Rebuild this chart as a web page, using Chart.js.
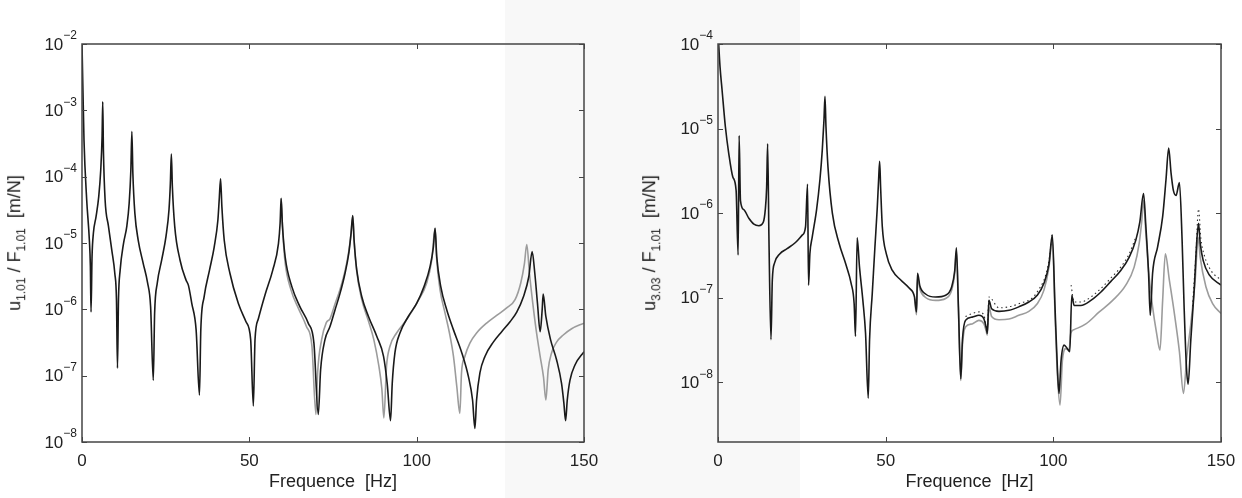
<!DOCTYPE html>
<html>
<head>
<meta charset="utf-8">
<script src="https://cdn.jsdelivr.net/npm/chart.js@4.4.0/dist/chart.umd.min.js"></script>
<style>
  html, body { margin: 0; padding: 0; background: #fff; }
  #page { position: relative; width: 1242px; height: 498px; overflow: hidden;
          font-family: "Liberation Sans", Arial, Helvetica, sans-serif; color: #222; }
  .band { position: absolute; left: 505px; top: 0; width: 295px; height: 498px; background: #f8f8f8; }
  .panel { position: absolute; top: 0; width: 621px; height: 498px; }
  .ytitle { position: absolute; top: 243px; font-size: 18px; line-height: 1; white-space: nowrap;
            transform: translate(-50%, -50%) rotate(-90deg); }
  .ytitle sub { font-size: 12px; }
</style>
</head>
<body>
<div id="page">
  <div class="band"></div>
  <div class="panel" style="left:0"><canvas id="left" width="621" height="498"></canvas></div>
  <div class="panel" style="left:621px"><canvas id="right" width="621" height="498"></canvas></div>
  <div class="ytitle" style="left:16px">u<sub>1.01</sub> / F<sub>1.01</sub>&nbsp;&nbsp;[m/N]</div>
  <div class="ytitle" style="left:651px">u<sub>3.03</sub> / F<sub>1.01</sub>&nbsp;&nbsp;[m/N]</div>
</div>
<script>
// --- data: [frequency Hz, receptance m/N] ---
const xTicks = [0, 50, 100, 150];
const xTitle = "Frequence  [Hz]";

const leftYTicks = [1e-8, 1e-7, 1e-6, 1e-5, 1e-4, 1e-3, 1e-2];
const leftYExps = ["\u22128", "\u22127", "\u22126", "\u22125", "\u22124", "\u22123", "\u22122"];

const rightYTicks = [1e-8, 1e-7, 1e-6, 1e-5, 1e-4];
const rightYExps = ["\u22128", "\u22127", "\u22126", "\u22125", "\u22124"];

// u1.01 / F1.01, black curve
const leftBlack = [
  [0, 1.0e-2], [0.6, 3.5e-4], [1.4, 4.5e-5], [2.2, 1.1e-5], [2.5, 4.5e-6], [2.7, 9.1e-7],
  [3.0, 6.2e-6], [3.4, 1.4e-5], [4.2, 2.5e-5], [5.0, 5.0e-5], [5.6, 1.26e-4], [6.0, 4.0e-4],
  [6.2, 1.35e-3], [6.4, 2.5e-4], [6.9, 4.5e-5], [7.9, 1.8e-5], [8.9, 7.8e-6], [9.8, 3.5e-6],
  [10.3, 1.4e-6], [10.6, 1.3e-7], [10.9, 1.4e-6], [11.4, 3.9e-6], [12.4, 9.8e-6], [13.4, 1.8e-5],
  [14.1, 4.0e-5], [14.6, 1.26e-4], [14.9, 4.8e-4], [15.2, 1.12e-4], [15.8, 2.8e-5], [16.8, 1.1e-5],
  [18.3, 4.9e-6], [19.6, 2.5e-6], [20.5, 1.1e-6], [21.3, 8.5e-8], [21.7, 8.7e-7], [22.5, 2.5e-6],
  [23.8, 5.5e-6], [25.1, 1.26e-5], [26.0, 3.2e-5], [26.4, 7.9e-5], [26.7, 2.2e-4], [27.0, 7.1e-5],
  [27.7, 1.8e-5], [29.3, 5.5e-6], [31.1, 2.75e-6], [31.8, 2.3e-6], [32.8, 1.23e-6], [34.1, 4.9e-7],
  [35.1, 5.1e-8], [35.5, 4.9e-7], [36.5, 1.55e-6], [38.1, 3.9e-6], [39.5, 8.7e-6], [40.6, 2.2e-5],
  [41.0, 4.5e-5], [41.4, 9.3e-5], [41.8, 3.5e-5], [42.5, 1.1e-5], [44.2, 3.5e-6], [46.7, 1.23e-6],
  [49.0, 6.5e-7], [50.4, 3.5e-7], [51.2, 3.5e-8], [51.7, 3.5e-7], [52.7, 7.2e-7], [54.7, 1.66e-6],
  [57.0, 3.9e-6], [58.7, 9.8e-6], [59.2, 2.0e-5], [59.5, 4.7e-5], [59.9, 1.8e-5], [60.7, 6.2e-6],
  [62.7, 2.2e-6], [65.1, 1.1e-6], [67.6, 6.2e-7], [69.3, 3.1e-7], [70.6, 2.6e-8], [71.3, 1.23e-7],
  [72.6, 3.5e-7], [74.1, 5.5e-7], [75.6, 9.8e-7], [77.1, 1.74e-6], [78.6, 3.5e-6], [79.7, 6.9e-6],
  [80.4, 1.4e-5], [80.9, 2.6e-5], [81.3, 1.1e-5], [82.1, 3.9e-6], [83.6, 1.55e-6], [85.6, 7.8e-7],
  [88.1, 3.9e-7], [90.1, 1.95e-7], [91.2, 7.6e-8], [92.2, 2.1e-8], [92.7, 7.6e-8], [93.5, 2.2e-7],
  [95.0, 4.4e-7], [97.5, 7.8e-7], [100.0, 1.23e-6], [102.2, 2.2e-6], [104.0, 4.4e-6], [105.0, 8.7e-6],
  [105.5, 1.66e-5], [106.0, 6.2e-6], [107.2, 2.2e-6], [109.0, 9.8e-7], [111.0, 4.9e-7], [113.5, 2.2e-7],
  [115.5, 9.5e-8], [116.7, 4.3e-8], [117.4, 1.6e-8], [117.9, 4.3e-8], [118.9, 1.1e-7], [120.4, 1.95e-7],
  [122.9, 3.2e-7], [125.4, 4.6e-7], [127.9, 6.5e-7], [129.9, 9.1e-7], [131.9, 1.55e-6], [133.5, 3.1e-6],
  [134.5, 7.4e-6], [135.3, 3.5e-6], [136.1, 1.23e-6], [136.9, 4.6e-7], [137.5, 9.8e-7], [137.8, 1.7e-6],
  [138.6, 7.8e-7], [140.0, 3.5e-7], [141.8, 1.74e-7], [143.3, 7.6e-8], [144.0, 3.8e-8], [144.5, 2.1e-8],
  [145.0, 4.3e-8], [145.8, 8.5e-8], [147.3, 1.45e-7], [150.0, 2.3e-7]
];

// u1.01 / F1.01, grey curve (same as black below 59 Hz)
const leftGrey = [
  [59.5, 4.7e-5], [59.9, 1.8e-5], [60.6, 5.6e-6], [62.4, 2.0e-6], [64.8, 1.0e-6], [67.0, 5.6e-7],
  [68.7, 2.8e-7], [69.9, 2.6e-8], [70.4, 1.1e-7], [71.6, 3.5e-7], [73.0, 6.3e-7], [74.1, 7.2e-7],
  [75.6, 1.2e-6], [77.1, 2.0e-6], [78.6, 3.8e-6], [79.7, 7.4e-6], [80.4, 1.4e-5], [80.9, 2.6e-5],
  [81.3, 1.1e-5], [82.1, 3.7e-6], [83.6, 1.4e-6], [85.5, 6.9e-7], [87.2, 3.5e-7], [88.7, 1.4e-7],
  [89.6, 6.3e-8], [90.2, 2.3e-8], [91.0, 1.4e-7], [92.0, 2.75e-7], [94.0, 4.4e-7], [96.9, 6.9e-7],
  [100.0, 1.23e-6], [103.0, 2.5e-6], [104.5, 5.5e-6], [105.5, 1.66e-5], [106.0, 5.5e-6], [107.0, 1.95e-6],
  [108.5, 8.7e-7], [109.8, 4.4e-7], [111.0, 1.95e-7], [112.0, 6.8e-8], [112.9, 2.7e-8], [113.4, 1.1e-7],
  [114.4, 1.95e-7], [115.9, 3.1e-7], [117.9, 4.4e-7], [120.9, 6.2e-7], [123.9, 8.1e-7], [126.9, 1.05e-6],
  [129.4, 1.4e-6], [131.1, 2.5e-6], [132.2, 4.9e-6], [132.9, 9.5e-6], [133.7, 3.5e-6], [134.7, 1.23e-6],
  [135.7, 4.9e-7], [136.9, 1.95e-7], [137.9, 9.5e-8], [138.6, 4.3e-8], [139.3, 1.23e-7], [140.3, 2.2e-7],
  [141.8, 3.2e-7], [143.8, 4.1e-7], [146.3, 5.1e-7], [150.0, 6.2e-7]
];

// u3.03 / F1.01, black curve
const rightBlack = [
  [0.2, 1.0e-4], [0.6, 5.4e-5], [1.2, 2.9e-5], [2.2, 1.05e-5], [3.2, 5.1e-6], [4.4, 2.7e-6],
  [5.4, 1.86e-6], [6.0, 3.2e-7], [6.3, 8.3e-6], [6.7, 1.41e-6], [7.7, 1.1e-6], [9.2, 8.7e-7],
  [10.7, 7.4e-7], [12.2, 7.1e-7], [13.5, 7.8e-7], [14.1, 1.1e-6], [14.5, 2.0e-6], [14.8, 6.6e-6],
  [15.2, 4.8e-7], [15.8, 3.2e-8], [16.2, 1.62e-7], [16.9, 2.6e-7], [18.4, 3.3e-7], [20.6, 3.8e-7],
  [23.1, 4.5e-7], [25.1, 5.5e-7], [26.1, 6.9e-7], [26.7, 2.2e-6], [27.0, 1.41e-7], [27.4, 3.3e-7],
  [28.1, 5.2e-7], [29.4, 1.1e-6], [30.4, 2.5e-6], [31.1, 5.6e-6], [31.6, 1.26e-5], [31.9, 2.4e-5],
  [32.2, 1.05e-5], [32.8, 3.5e-6], [34.1, 1.0e-6], [36.1, 4.4e-7], [38.1, 2.5e-7], [39.7, 1.48e-7],
  [40.6, 8.5e-8], [41.0, 3.5e-8], [41.5, 5.1e-7], [42.2, 2.3e-7], [43.2, 9.3e-8], [44.0, 3.8e-8],
  [44.8, 6.5e-9], [45.2, 3.2e-8], [46.0, 1.12e-7], [46.8, 4.0e-7], [47.5, 1.17e-6], [47.9, 2.5e-6],
  [48.2, 4.1e-6], [48.5, 2.0e-6], [49.0, 6.9e-7], [50.2, 3.3e-7], [52.0, 2.1e-7], [54.5, 1.62e-7],
  [57.0, 1.3e-7], [58.6, 1.02e-7], [59.2, 6.8e-8], [59.5, 1.95e-7], [60.2, 1.38e-7], [62.0, 1.1e-7],
  [64.9, 1.02e-7], [67.9, 1.07e-7], [69.7, 1.35e-7], [70.6, 2.1e-7], [71.1, 3.9e-7], [71.7, 7.8e-8],
  [72.4, 1.1e-8], [72.9, 3.2e-8], [73.8, 5.4e-8], [75.8, 5.9e-8], [77.8, 6.2e-8], [79.3, 5.6e-8],
  [80.0, 4.4e-8], [80.3, 3.8e-8], [80.8, 9.3e-8], [81.6, 7.4e-8], [83.8, 6.9e-8], [86.8, 7.1e-8],
  [89.7, 7.8e-8], [92.7, 8.9e-8], [95.2, 1.07e-7], [97.2, 1.48e-7], [98.7, 2.5e-7], [99.7, 5.5e-7],
  [100.5, 7.8e-8], [101.2, 1.5e-8], [101.7, 7.4e-9], [102.3, 1.8e-8], [103.2, 2.75e-8], [104.2, 2.5e-8],
  [104.9, 2.3e-8], [105.5, 1.07e-7], [106.2, 8.1e-8], [108.2, 8.1e-8], [111.2, 9.3e-8], [114.2, 1.17e-7],
  [117.1, 1.55e-7], [120.1, 2.1e-7], [122.6, 3.0e-7], [124.6, 4.8e-7], [125.8, 7.9e-7], [126.9, 1.7e-6],
  [127.6, 6.9e-7], [128.4, 1.95e-7], [128.9, 6.2e-8], [129.6, 1.95e-7], [131.1, 4.0e-7], [132.6, 9.1e-7],
  [133.6, 2.5e-6], [134.4, 5.9e-6], [135.1, 3.0e-6], [135.8, 1.86e-6], [136.6, 1.62e-6], [137.6, 2.3e-6],
  [138.4, 4.8e-7], [139.0, 7.8e-8], [139.7, 1.5e-8], [140.2, 9.5e-9], [141.0, 3.2e-8], [142.0, 1.23e-7],
  [142.8, 4.8e-7], [143.3, 7.6e-7], [143.8, 4.4e-7], [144.7, 2.75e-7], [146.5, 1.86e-7], [150.0, 1.41e-7]
];

// u3.03 / F1.01, grey curve (hidden under black below 58 Hz)
const rightGrey = [
  [58.6, 9.8e-8], [59.2, 6.3e-8], [59.5, 1.74e-7], [60.2, 1.26e-7], [62.0, 1.0e-7], [64.9, 9.3e-8],
  [67.9, 9.8e-8], [69.7, 1.23e-7], [70.6, 1.95e-7], [71.1, 3.6e-7], [71.7, 7.1e-8], [72.4, 1.05e-8],
  [72.9, 2.75e-8], [73.8, 4.5e-8], [75.8, 4.9e-8], [77.8, 5.4e-8], [79.3, 4.9e-8], [80.0, 4.0e-8],
  [80.3, 3.6e-8], [80.8, 7.8e-8], [81.6, 6.0e-8], [83.8, 5.5e-8], [86.8, 5.6e-8], [89.7, 6.2e-8],
  [92.7, 6.9e-8], [95.2, 8.5e-8], [97.2, 1.23e-7], [98.7, 2.3e-7], [99.7, 5.0e-7], [100.5, 6.5e-8],
  [101.2, 1.26e-8], [102.0, 5.4e-9], [102.7, 1.8e-8], [103.7, 2.5e-8], [104.7, 2.4e-8], [105.2, 3.8e-8],
  [106.2, 4.2e-8], [109.7, 4.9e-8], [113.7, 6.8e-8], [117.7, 9.3e-8], [121.6, 1.41e-7], [124.1, 2.3e-7],
  [125.6, 4.4e-7], [126.4, 8.3e-7], [126.9, 1.41e-6], [127.6, 5.8e-7], [128.4, 2.1e-7], [129.6, 7.8e-8],
  [130.8, 3.8e-8], [131.8, 2.4e-8], [132.6, 9.3e-8], [133.4, 3.3e-7], [134.6, 1.62e-7], [136.1, 6.5e-8],
  [137.6, 2.3e-8], [138.8, 7.4e-9], [139.8, 2.0e-8], [141.0, 4.9e-8], [142.3, 1.62e-7], [143.2, 5.2e-7],
  [143.8, 3.0e-7], [145.5, 1.35e-7], [147.5, 8.5e-8], [150.0, 6.5e-8]
];

// u3.03 / F1.01, dotted curve where it shows beside the black one
const rightDotted = [
  [73.8, 6.0e-8], [75.8, 6.5e-8], [77.8, 6.8e-8], [79.3, 6.2e-8], [80.3, 4.2e-8], [80.8, 1.02e-7],
  [83.8, 7.6e-8], [89.7, 8.5e-8], [95.2, 1.17e-7], [98.7, 2.75e-7], [99.7, 6.0e-7], [100.2, null],
  [105.3, 1.41e-7], [106.2, 8.9e-8], [108.2, 8.9e-8], [111.2, 1.02e-7], [114.2, 1.29e-7], [117.1, 1.7e-7],
  [120.1, 2.3e-7], [122.6, 3.3e-7], [124.6, 5.2e-7], [125.0, null],
  [141.5, 7.9e-8], [142.5, 3.2e-7], [143.3, 1.12e-6], [144.0, 5.0e-7], [145.0, 3.2e-7], [147.0, 2.1e-7],
  [150.0, 1.62e-7]
];

const FONT = '"Liberation Sans", Arial, Helvetica, sans-serif';
const toXY = (arr) => arr.map((p) => ({ x: p[0], y: p[1] }));

// box around the plot, inward ticks, and 10^n labels
const framePlugin = {
  id: "frame",
  afterDraw(chart, args, opts) {
    const { ctx, chartArea: a } = chart;
    const x = chart.scales.x;
    const y = chart.scales.y;
    ctx.save();
    ctx.strokeStyle = "#444";
    ctx.lineWidth = 1.5;
    ctx.strokeRect(a.left, a.top, a.right - a.left, a.bottom - a.top);

    ctx.lineWidth = 1;
    ctx.beginPath();
    xTicks.forEach((v) => {
      const px = Math.round(x.getPixelForValue(v)) + 0.5;
      ctx.moveTo(px, a.bottom); ctx.lineTo(px, a.bottom - 5);
      ctx.moveTo(px, a.top); ctx.lineTo(px, a.top + 5);
    });
    opts.yTicks.forEach((v) => {
      const py = Math.round(y.getPixelForValue(v)) + 0.5;
      ctx.moveTo(a.left, py); ctx.lineTo(a.left + 5, py);
      ctx.moveTo(a.right, py); ctx.lineTo(a.right - 5, py);
    });
    ctx.stroke();

    ctx.fillStyle = "#222";
    ctx.textAlign = "right";
    ctx.textBaseline = "middle";
    opts.yTicks.forEach((v, i) => {
      const py = y.getPixelForValue(v);
      ctx.font = "12px " + FONT;
      const ew = ctx.measureText(opts.yExps[i]).width;
      ctx.fillText(opts.yExps[i], a.left - 5, py - 8);
      ctx.font = "17px " + FONT;
      ctx.fillText("10", a.left - 5 - ew, py + 1);
    });
    ctx.restore();
  },
};

function makeChart(id, setup) {
  return new Chart(document.getElementById(id), {
    type: "line",
    data: { datasets: setup.datasets },
    options: {
      responsive: false,
      animation: false,
      events: [],
      layout: { padding: { left: 0, top: 44, right: setup.padRight, bottom: 0 } },
      elements: { point: { radius: 0 }, line: { cubicInterpolationMode: "monotone" } },
      plugins: {
        legend: { display: false },
        tooltip: { enabled: false },
        frame: { yTicks: setup.yTicks, yExps: setup.yExps },
      },
      scales: {
        x: {
          type: "linear",
          min: 0,
          max: 150,
          afterBuildTicks: (scale) => { scale.ticks = xTicks.map((v) => ({ value: v })); },
          afterFit: (scale) => { scale.height = 56; },
          grid: { display: false },
          border: { display: false },
          ticks: { color: "#222", font: { family: FONT, size: 17 }, padding: 1, maxRotation: 0, autoSkip: false },
          title: { display: true, text: xTitle, color: "#222", font: { family: FONT, size: 18 }, padding: { top: 0, bottom: 5 } },
        },
        y: {
          type: "logarithmic",
          min: setup.yMin,
          max: setup.yMax,
          afterBuildTicks: (scale) => { scale.ticks = setup.yTicks.map((v) => ({ value: v })); },
          afterFit: (scale) => { scale.width = setup.axisWidth; },
          grid: { display: false },
          border: { display: false },
          ticks: { display: false },
        },
      },
    },
    plugins: [framePlugin],
  });
}

makeChart("left", {
  yMin: 1e-8, yMax: 1e-2, yTicks: leftYTicks, yExps: leftYExps,
  axisWidth: 82, padRight: 37,
  datasets: [
    { data: toXY(leftBlack), borderColor: "#1a1a1a", borderWidth: 1.6 },
    { data: toXY(leftGrey), borderColor: "#9c9c9c", borderWidth: 1.6 },
  ],
});

makeChart("right", {
  yMin: 1.97e-9, yMax: 1e-4, yTicks: rightYTicks, yExps: rightYExps,
  axisWidth: 97, padRight: 21,
  datasets: [
    { data: toXY(rightBlack), borderColor: "#1a1a1a", borderWidth: 1.6 },
    { data: toXY(rightDotted), borderColor: "#333", borderWidth: 1.1, borderDash: [1.5, 3], spanGaps: false },
    { data: toXY(rightGrey), borderColor: "#9c9c9c", borderWidth: 1.6 },
  ],
});
</script>
</body>
</html>
